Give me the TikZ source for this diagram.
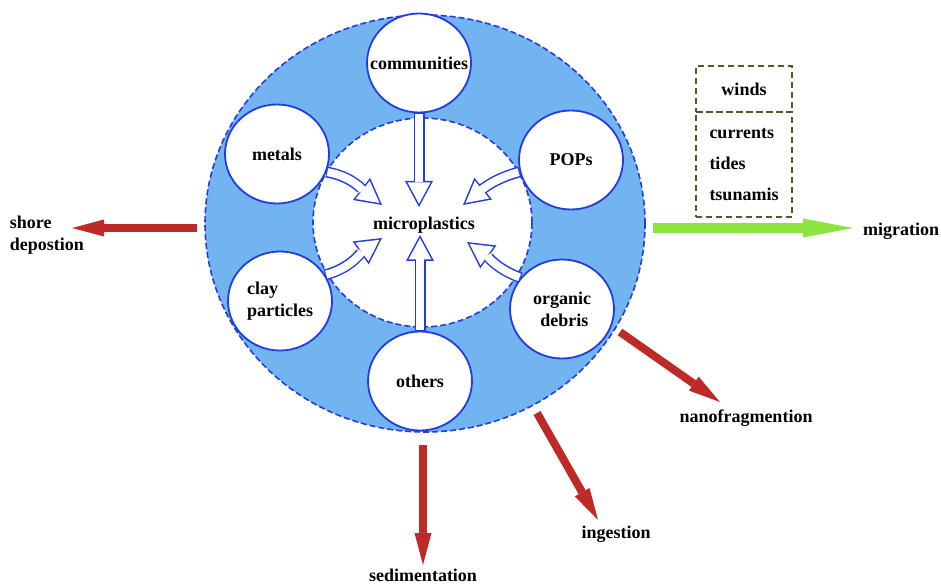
\documentclass[tikz,border=0pt]{standalone}
\usepackage{fontspec}
\setmainfont{Liberation Serif}
\usetikzlibrary{arrows.meta,shapes.geometric}
\definecolor{ringblue}{RGB}{114,180,240}
\definecolor{lineblue}{RGB}{35,60,225}
\definecolor{flowred}{RGB}{190,42,40}
\definecolor{flowgreen}{RGB}{142,228,62}
\definecolor{boxgreen}{RGB}{78,88,40}

\begin{document}
\begin{tikzpicture}[x=1pt,y=1pt]
\tikzset{every node/.style={font=\fontsize{18}{22}\selectfont\bfseries},
 part/.style={ellipse,draw=lineblue,line width=1.8pt,fill=white,minimum width=104pt,minimum height=99pt,align=center,inner xsep=-14pt,inner ysep=0pt},
 zone/.style={ellipse,draw=lineblue,line width=1.6pt,dash pattern=on 6pt off 3pt},
 hollow/.style={line width=11pt,draw=lineblue,-{Triangle[length=26pt,width=28pt,line width=0pt]}},
 hollowin/.style={line width=8pt,draw=white,shorten <=1pt,shorten >=3.2pt,-{Triangle[length=21.3pt,width=22.9pt,line width=0pt]}},
 flow/.style={line width=8pt,draw=flowred,-{Triangle[length=32pt,width=17pt,line width=0pt]}},
 forces/.style={draw=boxgreen,line width=1.4pt,dash pattern=on 6pt off 4pt,minimum width=96pt}}
\useasboundingbox (0,0) rectangle (941,586);

\node[zone,fill=ringblue,minimum width=440pt,minimum height=417pt] (ring) at (425,362.5) {};
\node[zone,fill=white,minimum width=219pt,minimum height=209pt] (core) at (422.5,363.5) {};
\node (mp) at (424,361) {microplastics};

\node[part] (comm) at (419,523) {communities};
\node[part] (met) at (277,432) {metals};
\node[part] (pops) at (571,426) {POPs};
\node[part,align=left] (clay) at (280,285) {clay\\particles};
\node[part] (org) at (562,277) {organic\\\ debris};
\node[part] (oth) at (420,205) {others};

\coordinate (mp-n) at ([shift={(-5,18)}]mp.center);
\coordinate (mp-s) at ([shift={(-4,-10)}]mp.center);
\coordinate (mp-nw) at ([shift={(-42,20)}]mp.center);
\coordinate (mp-ne) at ([shift={(39,20)}]mp.center);
\coordinate (mp-sw) at ([shift={(-42,-13)}]mp.center);
\coordinate (mp-se) at ([shift={(43,-17)}]mp.center);

\foreach \s/\t/\o/\i in {comm.south/mp-n/-90/90, oth.north/mp-s/90/-90, met.-20/mp-nw/-10/142, pops.193/mp-ne/195/39, clay.30/mp-sw/15/215, org.143/mp-se/160/-35}{
 \draw[hollow] (\s) to[out=\o,in=\i] (\t);
 \draw[hollowin] (\s) to[out=\o,in=\i] (\t);
}

\node[forces,minimum height=46pt] (winds) at (744,497) {winds};
\node[forces,minimum height=105pt,align=left,font=\fontsize{18}{31}\selectfont\bfseries] (flows) at (744,421.5) {currents\\tides\\tsunamis};

\node[align=left] (shore) at (47,351) {shore\\depostion};
\node (sed) at (423,11) {sedimentation};
\node (ing) at (616,52) {ingestion};
\node (nano) at (746,168) {nanofragmention};
\node (mig) at (901,355) {migration};

\coordinate (shore-a) at (197,358);
\coordinate (shore-b) at (72,358);
\coordinate (sed-a) at (423,141);
\coordinate (sed-b) at (423,21);
\coordinate (ing-a) at (537,173);
\coordinate (ing-b) at (598,66);
\coordinate (nano-a) at (620,254);
\coordinate (nano-b) at (720,184);
\coordinate (mig-a) at (653,358);
\coordinate (mig-b) at (853,358);

\draw[flow] (shore-a) -- (shore-b);
\draw[flow] (sed-a) -- (sed-b);
\draw[flow] (ing-a) -- (ing-b);
\draw[flow] (nano-a) -- (nano-b);
\draw[line width=10pt,draw=flowgreen,-{Triangle[length=50pt,width=19pt,line width=0pt]}] (mig-a) -- (mig-b);
\end{tikzpicture}
\end{document}
